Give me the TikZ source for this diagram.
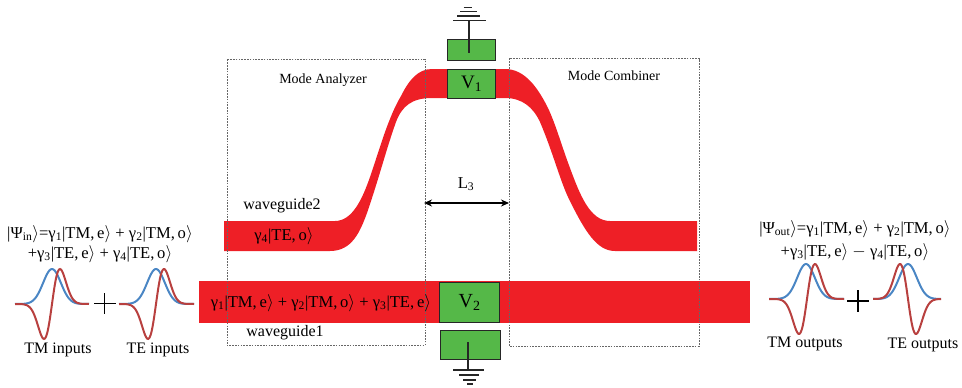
\documentclass[tikz,border=0pt]{standalone}
\usepackage{fontspec}
\setmainfont{Liberation Serif}
\usetikzlibrary{arrows.meta}
\definecolor{wgred}{HTML}{EE1F26}
\definecolor{grn}{HTML}{55B848}
\definecolor{wblue}{HTML}{4A86C4}
\definecolor{wred}{HTML}{B8403F}
\newcommand\gm[1]{γ\textsubscript{#1}}
\newcommand\kt[1]{|#1$\rangle$}
\newcommand\wavepair[6]{% xmin xmax base bluecentre redcentre redsign
  \draw[wblue,line width=2pt] plot[domain=#1:#2,samples=70,smooth] (\x,{#3-35*exp(-((\x-(#4))/12.5)^2)});
  \draw[wred,line width=2pt] plot[domain=#1:#2,samples=70,smooth] (\x,{#3+(#6)*(-81.6)*((\x-(#5))/11.3)*exp(-((\x-(#5))/11.3)^2)});
}
\tikzset{
  x=1pt,y=-1pt,
  wg/.style={fill=wgred,draw=none},
  gbox/.style={fill=grn,draw=black!85,line width=1.2pt,inner sep=0pt,anchor=north west},
  dbox/.style={draw=black!60,line width=0.7pt,dash pattern=on 1.6pt off 1.2pt},
  gnd/.style={draw=black!85,line width=1.3pt},
  lab/.style={font=\fontsize{14}{16}\selectfont,inner sep=0pt},
  lab2/.style={font=\fontsize{16}{18}\selectfont,inner sep=0pt},
  eq/.style={font=\fontsize{16.6}{19}\selectfont,inner sep=0pt},
  plusmark/.style={draw=black,line width=1.8pt},
}
\begin{document}
\begin{tikzpicture}
\useasboundingbox (0,0) rectangle (962,388);
% waveguides
\fill[wg] (199,281) rectangle (750,323);
\fill[wg] (224,221) -- (335,221)
  .. controls (352,221) and (362,200) .. (370,177)
  .. controls (380,148) and (388,118) .. (401,96)
  .. controls (409,80) and (418,69) .. (432,69)
  -- (505,69)
  .. controls (525,69) and (538,88) .. (548,108)
  .. controls (556,125) and (562,147) .. (570,168)
  .. controls (580,195) and (590,221) .. (610,221)
  -- (697,221) -- (697,251) -- (615,251)
  .. controls (597,251) and (585,232) .. (568,197)
  .. controls (560,180) and (552,150) .. (540,122)
  .. controls (533,107) and (522,98) .. (505,98)
  -- (432,98)
  .. controls (412,98) and (402,106) .. (396,122)
  .. controls (386,150) and (380,175) .. (367,213)
  .. controls (360,232) and (352,251) .. (330,251)
  -- (224,251) -- cycle;
% dashed frames
\draw[dbox] (227,59.5) rectangle (425,345.5);
\draw[dbox] (509,58.5) rectangle (699,346);
% electrodes
\node[gbox,minimum width=48pt,minimum height=29pt] (v1) at (447,69) {\fontsize{19}{20}\selectfont V\textsubscript{1}};
\node[gbox,minimum width=48pt,minimum height=21pt] (topg) at (447,39) {};
\node[gbox,minimum width=60pt,minimum height=40pt] (v2) at (439,282) {\fontsize{20}{22}\selectfont V\textsubscript{2}};
\node[gbox,minimum width=60pt,minimum height=29pt] (botg) at (439.5,330) {};
% grounds
\coordinate (gt) at (469,20.5);
\coordinate (gb) at (468,370);
\draw[gnd] (gt) -- ([yshift=-32pt]gt);
\draw[gnd] (453,20.5) -- (486,20.5) (457,16) -- (480,16) (460,11.5) -- (477,11.5) (463.5,7.5) -- (472,7.5);
\draw[gnd] (gb) -- ([yshift=28pt]gb);
\draw[gnd] (453,370) -- (484,370) (459,375) -- (479,375) (463,380) -- (476,380) (467,384) -- (473,384);
% L3 arrow
\coordinate (la) at (424,203);
\coordinate (lb) at (509,203);
\draw[{Stealth[length=8pt,width=7pt]}-{Stealth[length=8pt,width=7pt]},line width=1.6pt] (la) -- (lb);
\node[eq] (l3) at (466,184) {L\textsubscript{3}};
% labels
\node[lab] (ma) at (323,80) {Mode Analyzer};
\node[lab] (mc) at (614,76) {Mode Combiner};
\node[lab2] (w2) at (282,206) {waveguide2};
\node[lab2] (w1) at (285,333) {waveguide1};
\node[eq] (g4) at (284,236) {\gm{4}\kt{TE,\,o}};
\node[eq] (g1) at (321,303) {\gm{1}\kt{TM,\,e} + \gm{2}\kt{TM,\,o} + \gm{3}\kt{TE,\,e}};
% input
\node[eq] (in1) at (100,234) {\kt{Ψ\textsubscript{in}}=\gm{1}\kt{TM,\,e} + \gm{2}\kt{TM,\,o}};
\node[eq] (in2) at (100,254) {+\gm{3}\kt{TE,\,e} + \gm{4}\kt{TE,\,o}};
\wavepair{15}{89}{304}{52}{52}{1}
\wavepair{119}{194}{304}{156}{156}{1}
\draw[plusmark] (94,303.5) -- (116,303.5) (104.5,293) -- (104.5,314);
\node[lab2] (tmi) at (58,350) {TM inputs};
\node[lab2] (tei) at (158,350) {TE inputs};
% output
\node[eq] (o1) at (855,229) {\kt{Ψ\textsubscript{out}}=\gm{1}\kt{TM,\,e} + \gm{2}\kt{TM,\,o}};
\node[eq] (o2) at (855,252) {+\gm{3}\kt{TE,\,e} $-$ \gm{4}\kt{TE,\,o}};
\wavepair{769}{844}{299}{806}{807}{1}
\wavepair{873}{941}{299}{908}{908}{-1}
\draw[plusmark] (847,301) -- (869,301) (858,290) -- (858,312);
\node[lab2] (tmo) at (805,344) {TM outputs};
\node[lab2] (teo) at (923,345) {TE outputs};
\end{tikzpicture}
\end{document}
